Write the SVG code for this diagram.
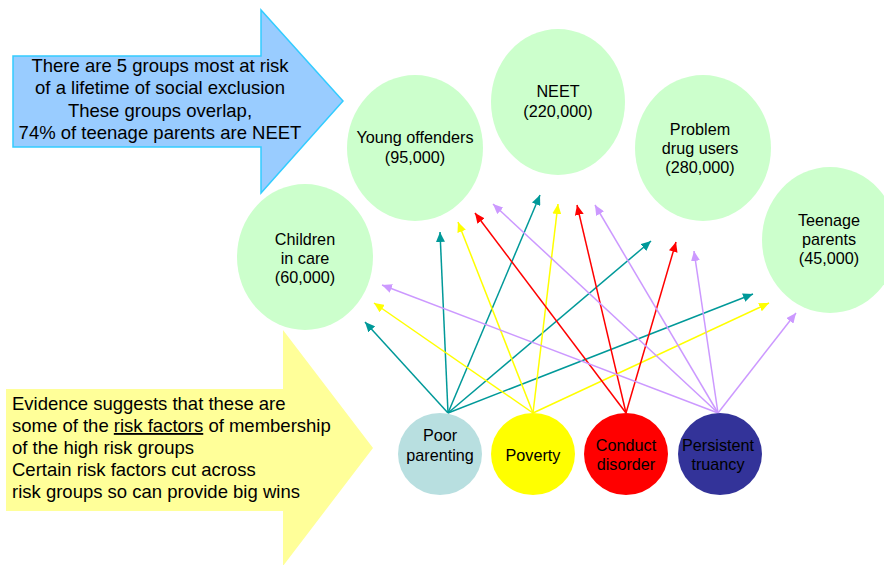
<svg xmlns="http://www.w3.org/2000/svg" width="884" height="565" viewBox="0 0 884 565">
<style>
text{font-family:"Liberation Sans",Arial,sans-serif;fill:#000}
.big{font-size:18.5px}
.mid{font-size:16.2px}
.grp{fill:#CCFFCC}
.c{stroke-width:1.5;fill:none}
.teal{stroke:#009999}
.yel{stroke:#FFFF00}
.red{stroke:#FF0000}
.lav{stroke:#CC99FF}
</style>
<defs>
<marker id="mTeal" markerUnits="userSpaceOnUse" markerWidth="11" markerHeight="9" refX="10" refY="4.5" orient="auto"><path d="M0,0 L10,4.5 L0,9 z" fill="#009999"/></marker>
<marker id="mYel" markerUnits="userSpaceOnUse" markerWidth="11" markerHeight="9" refX="10" refY="4.5" orient="auto"><path d="M0,0 L10,4.5 L0,9 z" fill="#FFFF00"/></marker>
<marker id="mRed" markerUnits="userSpaceOnUse" markerWidth="11" markerHeight="9" refX="10" refY="4.5" orient="auto"><path d="M0,0 L10,4.5 L0,9 z" fill="#FF0000"/></marker>
<marker id="mLav" markerUnits="userSpaceOnUse" markerWidth="11" markerHeight="9" refX="10" refY="4.5" orient="auto"><path d="M0,0 L10,4.5 L0,9 z" fill="#CC99FF"/></marker>
</defs>

<g id="callout-groups">
<path d="M13,56 L261,56 L261,10 L343,101 L261,193 L261,147 L13,147 z" fill="#99CCFF" stroke="#33CCFF" stroke-width="1.5"/>
<text class="big" text-anchor="middle"><tspan x="160" y="72">There are 5 groups most at risk</tspan><tspan x="160" y="94">of a lifetime of social exclusion</tspan><tspan x="160" y="117">These groups overlap,</tspan><tspan x="160" y="139">74% of teenage parents are NEET</tspan></text>
</g>

<g id="callout-factors">
<path d="M6,389 L283,389 L283,330 L373,448 L283,566 L283,511 L6,511 z" fill="#FFFF99"/>
<text class="big"><tspan x="12" y="410">Evidence suggests that these are</tspan><tspan x="12" y="432">some of the <tspan text-decoration="underline">risk factors</tspan> of membership</tspan><tspan x="12" y="454">of the high risk groups</tspan><tspan x="12" y="476">Certain risk factors cut across</tspan><tspan x="12" y="498">risk groups so can provide big wins</tspan></text>
</g>

<g id="children-in-care">
<ellipse class="grp" cx="305" cy="257" rx="68" ry="73"/>
<text class="mid" text-anchor="middle"><tspan x="305" y="245">Children</tspan><tspan x="305" y="264">in care</tspan><tspan x="305" y="283">(60,000)</tspan></text>
</g>
<g id="young-offenders">
<ellipse class="grp" cx="415" cy="148" rx="68" ry="73"/>
<text class="mid" text-anchor="middle"><tspan x="415" y="143">Young offenders</tspan><tspan x="415" y="163">(95,000)</tspan></text>
</g>
<g id="neet">
<ellipse class="grp" cx="558" cy="102" rx="67" ry="73"/>
<text class="mid" text-anchor="middle"><tspan x="558" y="97">NEET</tspan><tspan x="558" y="117">(220,000)</tspan></text>
</g>
<g id="problem-drug-users">
<ellipse class="grp" cx="703" cy="148" rx="68" ry="73"/>
<text class="mid" text-anchor="middle"><tspan x="700" y="135">Problem</tspan><tspan x="700" y="154">drug users</tspan><tspan x="700" y="173">(280,000)</tspan></text>
</g>
<g id="teenage-parents">
<ellipse class="grp" cx="830" cy="240" rx="68" ry="73"/>
<text class="mid" text-anchor="middle"><tspan x="829" y="226">Teenage</tspan><tspan x="829" y="245">parents</tspan><tspan x="829" y="264">(45,000)</tspan></text>
</g>

<g id="connectors">
<line class="c teal" x1="448" y1="413" x2="365" y2="322" marker-end="url(#mTeal)"/>
<line class="c teal" x1="448" y1="413" x2="440" y2="232" marker-end="url(#mTeal)"/>
<line class="c teal" x1="448" y1="413" x2="540" y2="195" marker-end="url(#mTeal)"/>
<line class="c teal" x1="448" y1="413" x2="651" y2="241" marker-end="url(#mTeal)"/>
<line class="c teal" x1="448" y1="413" x2="753" y2="294" marker-end="url(#mTeal)"/>
<line class="c yel" x1="533" y1="413" x2="374" y2="303" marker-end="url(#mYel)"/>
<line class="c yel" x1="533" y1="413" x2="458" y2="222" marker-end="url(#mYel)"/>
<line class="c yel" x1="533" y1="413" x2="558" y2="204" marker-end="url(#mYel)"/>
<line class="c yel" x1="533" y1="413" x2="769" y2="303" marker-end="url(#mYel)"/>
<line class="c red" x1="626" y1="413" x2="475" y2="213" marker-end="url(#mRed)"/>
<line class="c red" x1="626" y1="413" x2="577" y2="205" marker-end="url(#mRed)"/>
<line class="c red" x1="626" y1="413" x2="676" y2="242" marker-end="url(#mRed)"/>
<line class="c lav" x1="718" y1="413" x2="382" y2="285" marker-end="url(#mLav)"/>
<line class="c lav" x1="718" y1="413" x2="493" y2="204" marker-end="url(#mLav)"/>
<line class="c lav" x1="718" y1="413" x2="595" y2="205" marker-end="url(#mLav)"/>
<line class="c lav" x1="718" y1="413" x2="694" y2="251" marker-end="url(#mLav)"/>
<line class="c lav" x1="718" y1="413" x2="796" y2="313" marker-end="url(#mLav)"/>
</g>

<g id="poor-parenting">
<ellipse cx="440" cy="454" rx="42" ry="41" fill="#B8DFE0"/>
<text class="mid" text-anchor="middle"><tspan x="440" y="441">Poor</tspan><tspan x="440" y="461">parenting</tspan></text>
</g>
<g id="poverty">
<ellipse cx="533" cy="454" rx="42" ry="41" fill="#FFFF00"/>
<text class="mid" text-anchor="middle" x="533" y="461">Poverty</text>
</g>
<g id="conduct-disorder">
<ellipse cx="626" cy="454" rx="42" ry="41" fill="#FF0000"/>
<text class="mid" text-anchor="middle"><tspan x="626" y="451">Conduct</tspan><tspan x="626" y="470">disorder</tspan></text>
</g>
<g id="persistent-truancy">
<ellipse cx="720" cy="454" rx="42" ry="41" fill="#333399"/>
<text class="mid" text-anchor="middle"><tspan x="718" y="451">Persistent</tspan><tspan x="718" y="470">truancy</tspan></text>
</g>
</svg>
